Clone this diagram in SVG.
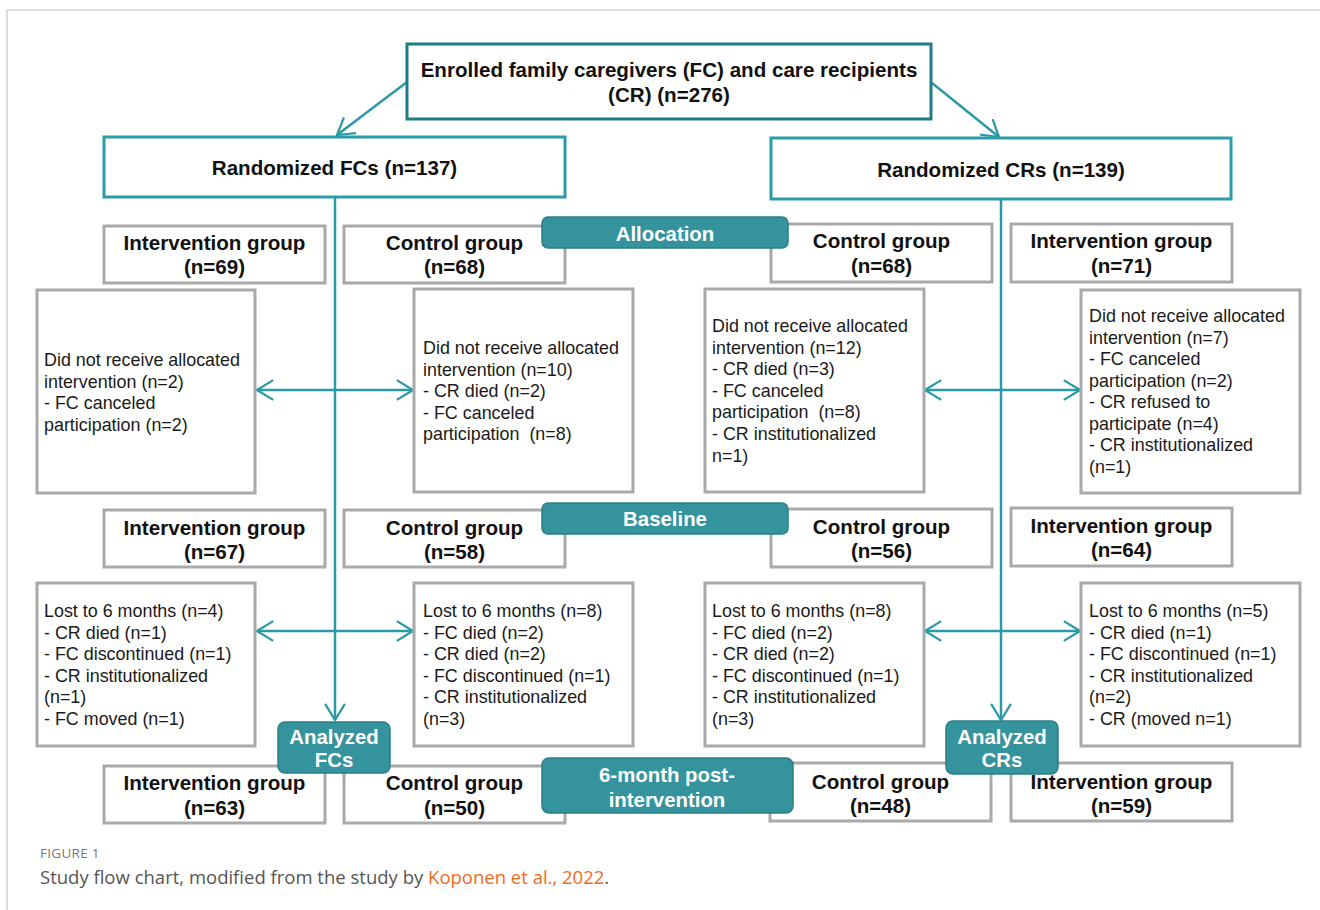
<svg xmlns="http://www.w3.org/2000/svg" width="1320" height="910" viewBox="0 0 1320 910">
<defs>
<style>
.bg{fill:#fff}
.frame{fill:none;stroke:#dcdcdc;stroke-width:2}
.gbox{fill:#fff;stroke:#a9a9a9;stroke-width:3}
.tbox{fill:#fff;stroke:#2c9cab;stroke-width:3}
.topbox{fill:#fff;stroke:#1f7b86;stroke-width:3}
.lbl{fill:#35939d;stroke:#2b7f88;stroke-width:1.5}
.bt{font-family:"Liberation Sans",Arial,sans-serif;font-weight:bold;font-size:20.6px;fill:#111;text-anchor:middle}
.lt{font-family:"Liberation Sans",Arial,sans-serif;font-weight:bold;font-size:20.4px;fill:#fff;text-anchor:middle}
.nt{font-family:"Liberation Sans",Arial,sans-serif;font-size:17.9px;fill:#1a1a1a}
.conn{fill:none;stroke:#2a9aa6;stroke-width:2.5}
.cap1{font-family:"Open Sans","Noto Sans",sans-serif;font-size:13.5px;fill:#777;letter-spacing:0.3px}
.cap2{font-family:"Open Sans","Noto Sans",sans-serif;font-size:18.5px;fill:#555}
</style>
<marker id="ah" viewBox="0 0 20 24" refX="19" refY="12" markerWidth="18" markerHeight="22" markerUnits="userSpaceOnUse" orient="auto-start-reverse">
<path d="M1,1 L19,12 L1,23" fill="none" stroke="#2a9aa6" stroke-width="2.5"/>
</marker>
</defs>
<rect class="bg" x="0" y="0" width="1320" height="910"/>
<path class="frame" d="M7,910 L7,10 L1320,10"/>

<g id="connectors">
<line class="conn" x1="407" y1="82" x2="337" y2="135" marker-end="url(#ah)"/>
<line class="conn" x1="932" y1="83" x2="999" y2="137" marker-end="url(#ah)"/>
<line class="conn" x1="335" y1="197" x2="335" y2="720" marker-end="url(#ah)"/>
<line class="conn" x1="1001" y1="199" x2="1001" y2="720" marker-end="url(#ah)"/>
<line class="conn" x1="257" y1="390" x2="413" y2="390" marker-start="url(#ah)" marker-end="url(#ah)"/>
<line class="conn" x1="925" y1="390" x2="1080" y2="390" marker-start="url(#ah)" marker-end="url(#ah)"/>
<line class="conn" x1="257" y1="631" x2="413" y2="631" marker-start="url(#ah)" marker-end="url(#ah)"/>
<line class="conn" x1="925" y1="631" x2="1080" y2="631" marker-start="url(#ah)" marker-end="url(#ah)"/>
</g>

<g id="enrolled">
<rect class="topbox" x="407" y="44" width="524" height="75"/>
<text class="bt" x="669" y="77">Enrolled family caregivers (FC) and care recipients</text>
<text class="bt" x="669" y="102">(CR) (n=276)</text>
</g>
<g id="randFC">
<rect class="tbox" x="104" y="137" width="461" height="60"/>
<text class="bt" x="334.5" y="175">Randomized FCs (n=137)</text>
</g>
<g id="randCR">
<rect class="tbox" x="771" y="138" width="460" height="61"/>
<text class="bt" x="1001" y="177">Randomized CRs (n=139)</text>
</g>

<g id="alloc-fc-int">
<rect class="gbox" x="104" y="226" width="221" height="57"/>
<text class="bt" x="214.5" y="250">Intervention group</text>
<text class="bt" x="214.5" y="274">(n=69)</text>
</g>
<g id="alloc-fc-ctrl">
<rect class="gbox" x="344" y="226" width="221" height="57"/>
<text class="bt" x="454.5" y="250">Control group</text>
<text class="bt" x="454.5" y="274">(n=68)</text>
</g>
<g id="alloc-cr-ctrl">
<rect class="gbox" x="771" y="224" width="221" height="58"/>
<text class="bt" x="881.5" y="248">Control group</text>
<text class="bt" x="881.5" y="273">(n=68)</text>
</g>
<g id="alloc-cr-int">
<rect class="gbox" x="1011" y="224" width="221" height="58"/>
<text class="bt" x="1121.5" y="248">Intervention group</text>
<text class="bt" x="1121.5" y="273">(n=71)</text>
</g>
<g id="label-allocation">
<rect class="lbl" x="542" y="217" width="246" height="31" rx="6"/>
<text class="lt" x="665" y="241">Allocation</text>
</g>

<g id="drop-fc-int">
<rect class="gbox" x="37" y="290" width="218" height="203"/>
<text class="nt" x="44" y="366">Did not receive allocated</text>
<text class="nt" x="44" y="388">intervention (n=2)</text>
<text class="nt" x="44" y="409">- FC canceled</text>
<text class="nt" x="44" y="431">participation (n=2)</text>
</g>
<g id="drop-fc-ctrl">
<rect class="gbox" x="414" y="289" width="219" height="203"/>
<text class="nt" x="423" y="354">Did not receive allocated</text>
<text class="nt" x="423" y="376">intervention (n=10)</text>
<text class="nt" x="423" y="397">- CR died (n=2)</text>
<text class="nt" x="423" y="419">- FC canceled</text>
<text class="nt" x="423" y="440" xml:space="preserve">participation  (n=8)</text>
</g>
<g id="drop-cr-ctrl">
<rect class="gbox" x="705" y="289" width="219" height="203"/>
<text class="nt" x="712" y="332">Did not receive allocated</text>
<text class="nt" x="712" y="354">intervention (n=12)</text>
<text class="nt" x="712" y="375">- CR died (n=3)</text>
<text class="nt" x="712" y="397">- FC canceled</text>
<text class="nt" x="712" y="418" xml:space="preserve">participation  (n=8)</text>
<text class="nt" x="712" y="440">- CR institutionalized</text>
<text class="nt" x="712" y="462">n=1)</text>
</g>
<g id="drop-cr-int">
<rect class="gbox" x="1081" y="290" width="219" height="203"/>
<text class="nt" x="1089" y="322">Did not receive allocated</text>
<text class="nt" x="1089" y="344">intervention (n=7)</text>
<text class="nt" x="1089" y="365">- FC canceled</text>
<text class="nt" x="1089" y="387">participation (n=2)</text>
<text class="nt" x="1089" y="408">- CR refused to</text>
<text class="nt" x="1089" y="430">participate (n=4)</text>
<text class="nt" x="1089" y="451">- CR institutionalized</text>
<text class="nt" x="1089" y="473">(n=1)</text>
</g>

<g id="base-fc-int">
<rect class="gbox" x="104" y="510" width="221" height="57"/>
<text class="bt" x="214.5" y="535">Intervention group</text>
<text class="bt" x="214.5" y="559">(n=67)</text>
</g>
<g id="base-fc-ctrl">
<rect class="gbox" x="344" y="510" width="221" height="57"/>
<text class="bt" x="454.5" y="535">Control group</text>
<text class="bt" x="454.5" y="559">(n=58)</text>
</g>
<g id="base-cr-ctrl">
<rect class="gbox" x="771" y="509" width="221" height="58"/>
<text class="bt" x="881.5" y="534">Control group</text>
<text class="bt" x="881.5" y="558">(n=56)</text>
</g>
<g id="base-cr-int">
<rect class="gbox" x="1011" y="508" width="221" height="58"/>
<text class="bt" x="1121.5" y="533">Intervention group</text>
<text class="bt" x="1121.5" y="557">(n=64)</text>
</g>
<g id="label-baseline">
<rect class="lbl" x="542" y="503" width="246" height="31" rx="6"/>
<text class="lt" x="665" y="526">Baseline</text>
</g>

<g id="lost-fc-int">
<rect class="gbox" x="37" y="583" width="218" height="163"/>
<text class="nt" x="44" y="617">Lost to 6 months (n=4)</text>
<text class="nt" x="44" y="639">- CR died (n=1)</text>
<text class="nt" x="44" y="660">- FC discontinued (n=1)</text>
<text class="nt" x="44" y="682">- CR institutionalized</text>
<text class="nt" x="44" y="703">(n=1)</text>
<text class="nt" x="44" y="725">- FC moved (n=1)</text>
</g>
<g id="lost-fc-ctrl">
<rect class="gbox" x="414" y="583" width="219" height="163"/>
<text class="nt" x="423" y="617">Lost to 6 months (n=8)</text>
<text class="nt" x="423" y="639">- FC died (n=2)</text>
<text class="nt" x="423" y="660">- CR died (n=2)</text>
<text class="nt" x="423" y="682">- FC discontinued (n=1)</text>
<text class="nt" x="423" y="703">- CR institutionalized</text>
<text class="nt" x="423" y="725">(n=3)</text>
</g>
<g id="lost-cr-ctrl">
<rect class="gbox" x="705" y="583" width="219" height="163"/>
<text class="nt" x="712" y="617">Lost to 6 months (n=8)</text>
<text class="nt" x="712" y="639">- FC died (n=2)</text>
<text class="nt" x="712" y="660">- CR died (n=2)</text>
<text class="nt" x="712" y="682">- FC discontinued (n=1)</text>
<text class="nt" x="712" y="703">- CR institutionalized</text>
<text class="nt" x="712" y="725">(n=3)</text>
</g>
<g id="lost-cr-int">
<rect class="gbox" x="1081" y="583" width="219" height="163"/>
<text class="nt" x="1089" y="617">Lost to 6 months (n=5)</text>
<text class="nt" x="1089" y="639">- CR died (n=1)</text>
<text class="nt" x="1089" y="660">- FC discontinued (n=1)</text>
<text class="nt" x="1089" y="682">- CR institutionalized</text>
<text class="nt" x="1089" y="703">(n=2)</text>
<text class="nt" x="1089" y="725">- CR (moved n=1)</text>
</g>

<g id="final-fc-int">
<rect class="gbox" x="104" y="766" width="221" height="57"/>
<text class="bt" x="214.5" y="790">Intervention group</text>
<text class="bt" x="214.5" y="815">(n=63)</text>
</g>
<g id="final-fc-ctrl">
<rect class="gbox" x="344" y="766" width="221" height="57"/>
<text class="bt" x="454.5" y="790">Control group</text>
<text class="bt" x="454.5" y="815">(n=50)</text>
</g>
<g id="final-cr-ctrl">
<rect class="gbox" x="770" y="763" width="221" height="58"/>
<text class="bt" x="880.5" y="789">Control group</text>
<text class="bt" x="880.5" y="813">(n=48)</text>
</g>
<g id="final-cr-int">
<rect class="gbox" x="1011" y="763" width="221" height="58"/>
<text class="bt" x="1121.5" y="789">Intervention group</text>
<text class="bt" x="1121.5" y="813">(n=59)</text>
</g>
<g id="label-6month">
<rect class="lbl" x="542" y="758" width="251" height="55" rx="7"/>
<text class="lt" x="667" y="782">6-month post-</text>
<text class="lt" x="667" y="807">intervention</text>
</g>
<g id="label-analyzed-fc">
<rect class="lbl" x="278" y="722" width="112" height="51" rx="7"/>
<text class="lt" x="334" y="744">Analyzed</text>
<text class="lt" x="334" y="767">FCs</text>
</g>
<g id="label-analyzed-cr">
<rect class="lbl" x="946" y="721" width="112" height="53" rx="7"/>
<text class="lt" x="1002" y="744">Analyzed</text>
<text class="lt" x="1002" y="767">CRs</text>
</g>

<g id="caption">
<text class="cap1" x="40" y="858">FIGURE 1</text>
<text class="cap2" x="40" y="884">Study flow chart, modified from the study by <tspan fill="#f26b21">Koponen et al., 2022</tspan>.</text>
</g>
</svg>
